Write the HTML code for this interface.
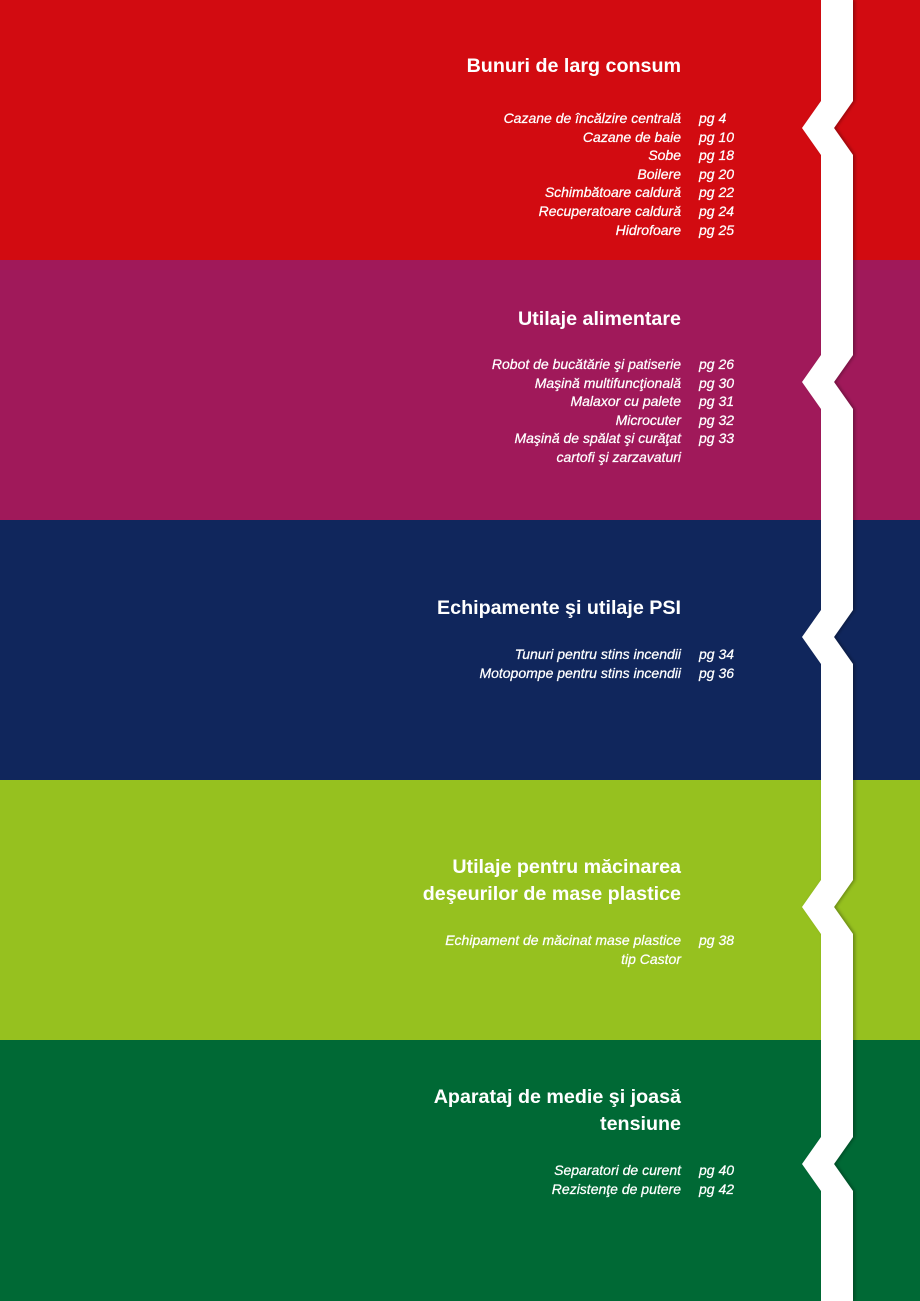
<!DOCTYPE html>
<html><head><meta charset="utf-8"><style>
html,body{margin:0;padding:0;width:920px;height:1301px;overflow:hidden}
svg{display:block}
.t{font-family:"Liberation Sans",sans-serif;font-weight:bold;font-size:19.7px;fill:#fff;text-anchor:end}
.i{font-family:"Liberation Sans",sans-serif;font-style:italic;font-size:14px;fill:#fff;text-anchor:end;stroke:#fff;stroke-width:0.25}
.p{font-family:"Liberation Sans",sans-serif;font-style:italic;font-size:14px;fill:#fff;stroke:#fff;stroke-width:0.25}
</style></head><body>
<svg width="920" height="1301" viewBox="0 0 920 1301">
<defs><filter id="sh" x="-20%" y="-5%" width="140%" height="110%"><feDropShadow dx="2" dy="0" stdDeviation="1.5" flood-color="#000" flood-opacity="0.3"/></filter></defs>
<rect x="0" y="0" width="920" height="260" fill="#D20B11"/>
<rect x="0" y="260" width="920" height="260" fill="#A0195A"/>
<rect x="0" y="520" width="920" height="260" fill="#10265C"/>
<rect x="0" y="780" width="920" height="260" fill="#96C11F"/>
<rect x="0" y="1040" width="920" height="261" fill="#006935"/>
<path filter="url(#sh)" fill="#fff" d="M821,0 H853 V101 L834,128 L853,155 V355 L834,382 L853,409 V610 L834,637 L853,664 V880 L834,907 L853,934 V1137 L834,1164 L853,1191 V1301 H821 V1191 L802,1164 L821,1137 V934 L802,907 L821,880 V664 L802,637 L821,610 V409 L802,382 L821,355 V155 L802,128 L821,101 Z"/>

<text class="t" x="681" y="72">Bunuri de larg consum</text>
<text class="i" x="681" y="123">Cazane de încălzire centrală</text>
<text class="i" x="681" y="142">Cazane de baie</text>
<text class="i" x="681" y="160">Sobe</text>
<text class="i" x="681" y="179">Boilere</text>
<text class="i" x="681" y="197">Schimbătoare caldură</text>
<text class="i" x="681" y="216">Recuperatoare caldură</text>
<text class="i" x="681" y="235">Hidrofoare</text>
<text class="p" x="699" y="123">pg 4</text><text class="p" x="699" y="142">pg 10</text><text class="p" x="699" y="160">pg 18</text><text class="p" x="699" y="179">pg 20</text><text class="p" x="699" y="197">pg 22</text><text class="p" x="699" y="216">pg 24</text><text class="p" x="699" y="235">pg 25</text>

<text class="t" x="681" y="325">Utilaje alimentare</text>
<text class="i" x="681" y="369">Robot de bucătărie şi patiserie</text>
<text class="i" x="681" y="388">Maşină multifuncţională</text>
<text class="i" x="681" y="406">Malaxor cu palete</text>
<text class="i" x="681" y="425">Microcuter</text>
<text class="i" x="681" y="443">Maşină de spălat şi curăţat</text>
<text class="i" x="681" y="462">cartofi şi zarzavaturi</text>
<text class="p" x="699" y="369">pg 26</text><text class="p" x="699" y="388">pg 30</text><text class="p" x="699" y="406">pg 31</text><text class="p" x="699" y="425">pg 32</text><text class="p" x="699" y="443">pg 33</text>

<text class="t" x="681" y="614">Echipamente şi utilaje PSI</text>
<text class="i" x="681" y="659">Tunuri pentru stins incendii</text>
<text class="i" x="681" y="678">Motopompe pentru stins incendii</text>
<text class="p" x="699" y="659">pg 34</text><text class="p" x="699" y="678">pg 36</text>

<text class="t" x="681" y="873">Utilaje pentru măcinarea</text>
<text class="t" x="681" y="900">deşeurilor de mase plastice</text>
<text class="i" x="681" y="945">Echipament de măcinat mase plastice</text>
<text class="i" x="681" y="964">tip Castor</text>
<text class="p" x="699" y="945">pg 38</text>

<text class="t" x="681" y="1103">Aparataj de medie şi joasă</text>
<text class="t" x="681" y="1130">tensiune</text>
<text class="i" x="681" y="1175">Separatori de curent</text>
<text class="i" x="681" y="1194">Rezistenţe de putere</text>
<text class="p" x="699" y="1175">pg 40</text><text class="p" x="699" y="1194">pg 42</text>
</svg>
</body></html>
